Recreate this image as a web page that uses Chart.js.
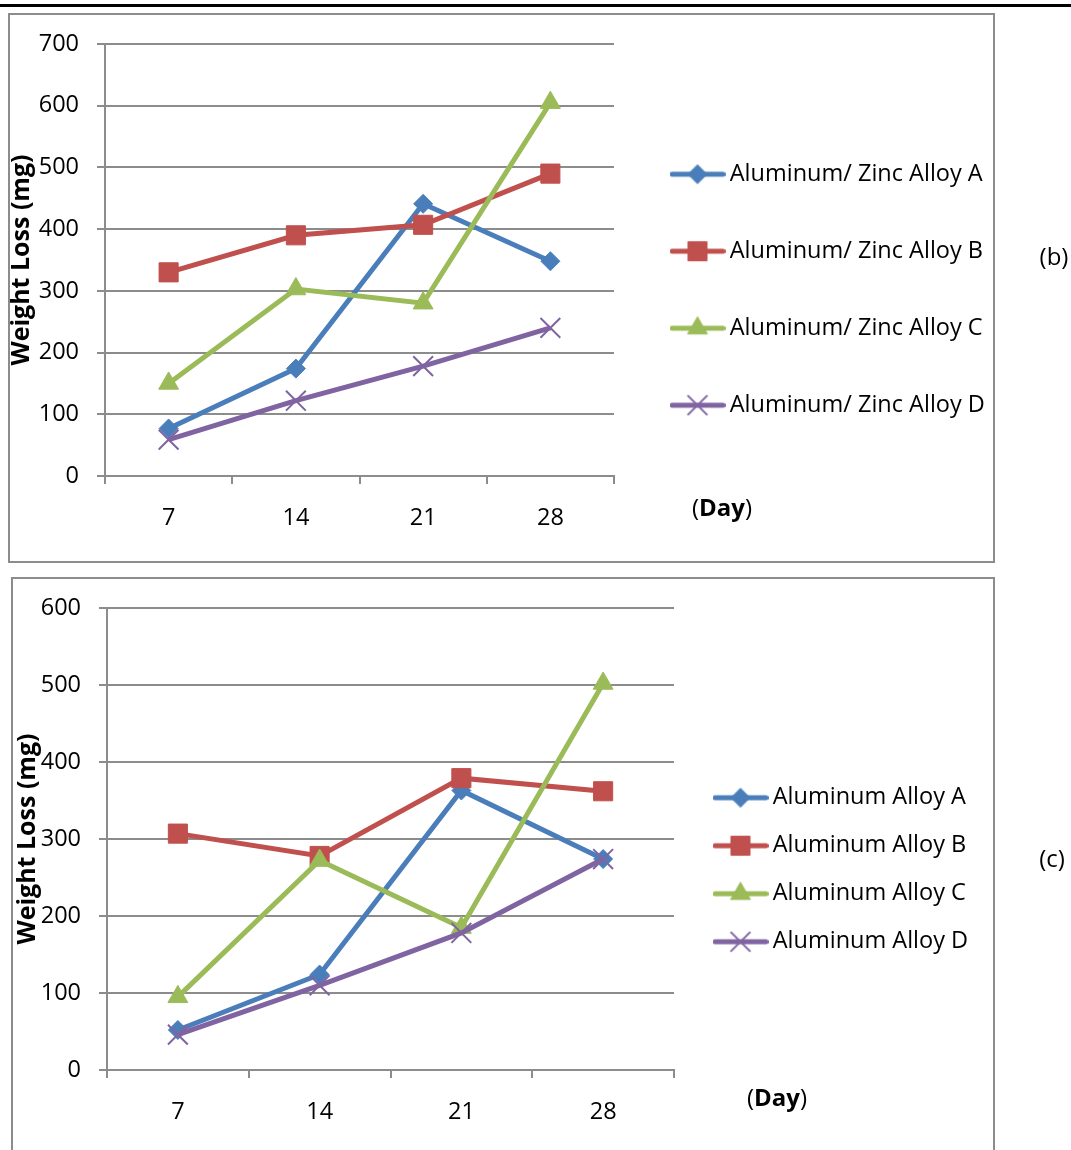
<!DOCTYPE html>
<html><head><meta charset="utf-8">
<script src="https://cdn.jsdelivr.net/npm/chart.js@4.4.1/dist/chart.umd.min.js"></script>
<style>
html,body{margin:0;padding:0;background:#fff;width:1071px;height:1150px;overflow:hidden;}
body{position:relative;font-family:'Open Sans',sans-serif;}
.rule{position:absolute;left:0;top:4px;width:1071px;height:3px;background:#000;}
.frame{position:absolute;border:2px solid #8c8c8c;box-sizing:border-box;}
.lbl{position:absolute;transform:translate(-50%,-50%);font-size:24px;color:#000;white-space:nowrap;line-height:1;}
canvas{position:absolute;left:0;}
</style></head><body>
<div class="rule"></div>
<div class="frame" style="left:8px;top:13px;width:987px;height:550px"></div>
<div class="frame" style="left:11px;top:577px;width:984px;height:620px"></div>
<canvas id="cb" width="1071" height="565" style="top:0"></canvas>
<canvas id="cc" width="1071" height="575" style="top:575px"></canvas>
<div class="lbl" style="left:722px;top:507px">(<b>Day</b>)</div>
<div class="lbl" style="left:777px;top:1097px">(<b>Day</b>)</div>
<div class="lbl" style="left:1054px;top:256px">(b)</div>
<div class="lbl" style="left:1052px;top:858px">(c)</div>
<script>
// ---- data ----
const days = ['7', '14', '21', '28'];
const zincNames = ['Aluminum/ Zinc Alloy A', 'Aluminum/ Zinc Alloy B', 'Aluminum/ Zinc Alloy C', 'Aluminum/ Zinc Alloy D'];
const zincA = [77, 174, 441, 348];
const zincB = [330, 390, 407, 490];
const zincC = [150, 303, 280, 605];
const zincD = [59, 122, 178, 240];
const alNames = ['Aluminum Alloy A', 'Aluminum Alloy B', 'Aluminum Alloy C', 'Aluminum Alloy D'];
const alA = [52, 124, 363, 274];
const alB = [307, 278, 379, 362];
const alC = [95, 272, 185, 502];
const alD = [46, 110, 178, 274];
const yTitle = 'Weight Loss (mg)';
const zincYMax = 700;
const alYMax = 600;
const yStep = 100;

// ---- styles ----
const COLORS = ['#4A7EBB', '#C0504D', '#9BBB59', '#8064A2'];
const MARKERS = [
  {pointStyle: 'rectRot', radius: 9.5, bw: 1},
  {pointStyle: 'rect', radius: 13.5, bw: 1},
  {pointStyle: 'triangle', radius: 11.5, bw: 1},
  {pointStyle: 'crossRot', radius: 14, bw: 2}
];
const GRID = '#8c8c8c';
Chart.defaults.font.family = "'Open Sans', sans-serif";
Chart.defaults.color = '#000';

function fallbackPoint(ctx, style, r, x, y) {
  ctx.beginPath();
  if (style === 'rectRot') { ctx.moveTo(x, y - r); ctx.lineTo(x + r, y); ctx.lineTo(x, y + r); ctx.lineTo(x - r, y); ctx.closePath(); ctx.fill(); ctx.stroke(); }
  else if (style === 'rect') { const s = r * Math.SQRT1_2; ctx.rect(x - s, y - s, 2 * s, 2 * s); ctx.fill(); ctx.stroke(); }
  else if (style === 'triangle') { ctx.moveTo(x, y - r); ctx.lineTo(x + r * 0.866, y + r / 2); ctx.lineTo(x - r * 0.866, y + r / 2); ctx.closePath(); ctx.fill(); ctx.stroke(); }
  else { const s = r * Math.SQRT1_2; ctx.moveTo(x - s, y - s); ctx.lineTo(x + s, y + s); ctx.moveTo(x + s, y - s); ctx.lineTo(x - s, y + s); ctx.stroke(); }
}

function legendImage(i) {
  const c = document.createElement('canvas');
  c.width = 56; c.height = 30;
  const ctx = c.getContext('2d');
  ctx.strokeStyle = COLORS[i];
  ctx.lineWidth = 5;
  ctx.lineCap = 'round';
  ctx.beginPath(); ctx.moveTo(2.5, 15); ctx.lineTo(53.5, 15); ctx.stroke();
  ctx.fillStyle = COLORS[i];
  ctx.lineWidth = MARKERS[i].bw;
  ctx.lineCap = 'butt';
  const m = MARKERS[i];
  if (Chart.helpers && Chart.helpers.drawPoint) {
    Chart.helpers.drawPoint(ctx, {pointStyle: m.pointStyle, radius: m.radius, rotation: 0, borderWidth: m.bw}, 28, 15);
  } else {
    fallbackPoint(ctx, m.pointStyle, m.radius, 28, 15);
  }
  return c;
}
const legendImgs = [0, 1, 2, 3].map(legendImage);

function makeChart(id, names, series, yMax, g) {
  const datasets = series.map((vals, i) => ({
    label: names[i],
    data: vals,
    borderColor: COLORS[i],
    backgroundColor: COLORS[i],
    borderWidth: 5,
    tension: 0,
    pointStyle: MARKERS[i].pointStyle,
    pointRadius: MARKERS[i].radius,
    pointBorderWidth: MARKERS[i].bw,
    pointBackgroundColor: COLORS[i],
    pointBorderColor: COLORS[i],
    pointHoverRadius: MARKERS[i].radius,
    order: 4 - i
  }));
  return new Chart(document.getElementById(id), {
    type: 'line',
    data: {labels: days, datasets},
    options: {
      responsive: false,
      animation: false,
      devicePixelRatio: 1,
      events: [],
      layout: {padding: {top: g.padTop, right: g.padRight, bottom: 0, left: 0}},
      scales: {
        x: {
          type: 'category',
          offset: true,
          afterFit: s => { s.height = g.xH; },
          grid: {offset: true, drawOnChartArea: false, drawTicks: true, tickLength: 8, color: GRID, lineWidth: 2},
          border: {display: true, color: GRID, width: 2},
          ticks: {font: {size: 23.5}, color: '#000', padding: 20, maxRotation: 0}
        },
        y: {
          min: 0, max: yMax,
          afterFit: s => { s.width = g.yW; },
          ticks: {stepSize: yStep, font: {size: 23.5}, color: '#000', padding: 18},
          grid: {color: GRID, lineWidth: 2, tickLength: 8, drawTicks: true},
          border: {display: true, color: GRID, width: 2},
          title: {display: true, text: yTitle, color: '#000', font: {size: 25, weight: 'bold'}, padding: {top: g.titlePad, bottom: 0}}
        }
      },
      plugins: {
        tooltip: {enabled: false},
        legend: {
          position: 'right',
          align: 'start',
          maxWidth: 200,
          labels: {
            usePointStyle: true,
            pointStyleWidth: 41,
            padding: g.legPad,
            color: '#000',
            font: {size: 23.5},
            sort: (a, b) => a.datasetIndex - b.datasetIndex,
            generateLabels: chart => {
              const items = Chart.defaults.plugins.legend.labels.generateLabels(chart);
              items.forEach(it => { it.pointStyle = legendImgs[it.datasetIndex]; it.rotation = 0; });
              return items;
            }
          }
        }
      }
    },
    plugins: [{
      id: 'legendPlace',
      afterLayout(chart) {
        const lg = chart.legend;
        if (!lg) return;
        lg.left = g.legL;
        lg.right = g.legL + 400;
        lg.width = 400;
        lg.top = g.legT;
      }
    }]
  });
}

makeChart('cb', zincNames, [zincA, zincB, zincC, zincD], zincYMax,
  {padTop: 44, padRight: 257, yW: 105, xH: 89, legPad: 53.5, legL: 623.5, legT: 109, titlePad: 7});
makeChart('cc', alNames, [alA, alB, alC, alD], alYMax,
  {padTop: 33, padRight: 197, yW: 107, xH: 80, legPad: 24.5, legL: 695.5, legT: 186.5, titlePad: 13});
</script>
</body></html>
